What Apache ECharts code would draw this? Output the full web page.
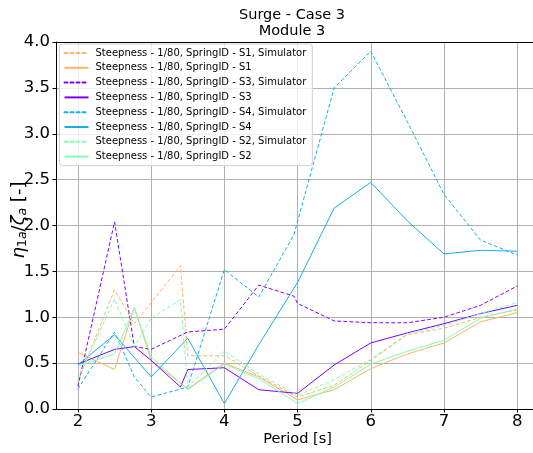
<!DOCTYPE html>
<html>
<head>
<meta charset="utf-8">
<script src="https://cdn.jsdelivr.net/npm/echarts@6/dist/echarts.min.js"></script>
<style>
  html, body { margin: 0; padding: 0; background: #ffffff; }
  #chart { width: 533px; height: 453px; }
</style>
</head>
<body>
<div id="chart"></div>
<script>
// Wave periods [s] shared by all series (null = no measurement at that period)
const periods = [2, 2.5, 2.77, 3, 3.4, 3.5, 4, 4.47, 4.95, 5, 5.5, 6, 6.5, 7, 7.5, 8];

// Surge response amplitude ratio per spring configuration
const s1Sim = [0.30, 1.30, 0.93, null, 1.56, 0.58, 0.58, 0.36, null, 0.13, 0.26, 0.53, 0.81, 0.88, 1.00, 1.08];
const s1    = [0.62, 0.43, 1.11, 0.53, null, 0.22, 0.50, 0.35, null, 0.10, 0.21, 0.44, 0.60, 0.72, 0.95, 1.05];
const s3Sim = [0.25, 2.04, 0.68, 0.65, null, 0.84, 0.87, 1.35, 1.23, 1.15, 0.96, 0.94, 0.94, 1.00, 1.13, 1.34];
const s3    = [0.49, 0.65, 0.68, 0.53, 0.24, 0.43, 0.45, 0.21, null, 0.17, 0.48, 0.72, 0.83, 0.93, 1.04, 1.13];
const s4Sim = [0.22, 0.84, 0.35, 0.13, null, 0.24, 1.52, 1.22, 1.90, null, 3.50, 3.90, 3.13, 2.34, 1.84, 1.68];
const s4    = [0.48, 0.81, null, 0.35, null, 0.77, 0.06, 0.70, null, 1.38, 2.19, 2.47, 2.05, 1.69, 1.73, 1.72];
const s2Sim = [0.33, 1.20, 0.68, 0.99, 1.19, 0.24, 0.63, 0.38, null, 0.15, 0.32, 0.54, 0.82, 0.91, 1.04, 1.16];
const s2    = [0.47, 0.60, 1.10, 0.57, null, 0.21, 0.49, 0.33, null, 0.06, 0.24, 0.49, 0.63, 0.75, 0.99, 1.09];

const seriesNames = [
  'Steepness - 1/80, SpringID - S1, Simulator',
  'Steepness - 1/80, SpringID - S1',
  'Steepness - 1/80, SpringID - S3, Simulator',
  'Steepness - 1/80, SpringID - S3',
  'Steepness - 1/80, SpringID - S4, Simulator',
  'Steepness - 1/80, SpringID - S4',
  'Steepness - 1/80, SpringID - S2, Simulator',
  'Steepness - 1/80, SpringID - S2'
];
const seriesValues = [s1Sim, s1, s3Sim, s3, s4Sim, s4, s2Sim, s2];
const seriesColors = ['#ffb462', '#ffb462', '#8000ff', '#8000ff', '#12b0ea', '#12b0ea', '#80ffb4', '#80ffb4'];
const seriesDashed = [true, false, true, false, true, false, true, false];

const xTicks = [2, 3, 4, 5, 6, 7, 8];
const FONT = 'DejaVu Sans';

const series = seriesNames.map((name, k) => ({
  name: name,
  type: 'line',
  symbol: 'none',
  xAxisIndex: 0,
  animation: false,
  data: periods.map((p, i) => [p, seriesValues[k][i]]).filter(d => d[1] !== null),
  lineStyle: seriesDashed[k]
    ? { color: seriesColors[k], width: 1, type: [3, 3], cap: 'round', join: 'round' }
    : { color: seriesColors[k], width: 1, type: 'solid' },
  itemStyle: { color: seriesColors[k] }
}));

const chart = echarts.init(document.getElementById('chart'), null, { renderer: 'canvas' });
chart.setOption({
  backgroundColor: '#ffffff',
  animation: false,
  title: {
    text: 'Surge - Case 3\nModule 3',
    left: 292,
    top: 7,
    textAlign: 'center',
    padding: 0,
    textStyle: { fontFamily: FONT, fontSize: 14.5, fontWeight: 'normal', color: '#000', lineHeight: 16 }
  },
  legend: {
    orient: 'vertical',
    left: 59.5,
    top: 44,
    padding: [4, 6, 4, 4],
    itemWidth: 24,
    itemHeight: 10,
    itemGap: 4.8,
    itemStyle: { opacity: 0 },
    backgroundColor: 'rgba(255,255,255,0.8)',
    borderColor: '#d0d0d0',
    borderWidth: 1,
    borderRadius: 3,
    textStyle: { fontFamily: FONT, fontSize: 10, color: '#000', padding: [0, 0, 0, 2] },
    data: seriesNames
  },
  // the plot frame runs past the right edge of the page
  grid: { left: 56, top: 42, width: 477, height: 367, show: false },
  xAxis: [
    {
      type: 'value',
      min: 1.7, max: 8.216,
      axisLine: { show: true, lineStyle: { color: '#000', width: 1 } },
      axisTick: { show: true, length: 3.5, customValues: xTicks, lineStyle: { color: '#000' } },
      axisLabel: { customValues: xTicks, margin: 4, fontFamily: FONT, fontSize: 16.5, color: '#000' },
      splitLine: { show: true, customValues: xTicks, lineStyle: { color: '#b0b0b0', width: 1 } }
    },
    {
      type: 'value',
      position: 'top',
      min: 1.7, max: 8.216,
      axisLine: { show: true, onZero: false, lineStyle: { color: '#000', width: 1 } },
      axisTick: { show: false },
      axisLabel: { show: false },
      splitLine: { show: false }
    }
  ],
  yAxis: {
    type: 'value',
    min: 0, max: 4, interval: 0.5,
    axisLine: { show: true, lineStyle: { color: '#000', width: 1 } },
    axisTick: { show: true, length: 3.5, lineStyle: { color: '#000' } },
    axisLabel: { margin: 6, fontFamily: FONT, fontSize: 16.5, color: '#000', formatter: v => v.toFixed(1) },
    splitLine: { show: true, lineStyle: { color: '#b0b0b0', width: 1 } }
  },
  graphic: [
    {
      type: 'text',
      x: 19, y: 220,
      rotation: Math.PI / 2,
      style: {
        text: '{m|η}{s|1}{si|a}{n|/}{m|ζ}{si|a}{n| [-]}',
        align: 'center',
        verticalAlign: 'middle',
        fill: '#000',
        rich: {
          m: { fontFamily: FONT, fontSize: 18, fontStyle: 'italic', fill: '#000' },
          n: { fontFamily: FONT, fontSize: 18, fill: '#000' },
          s: { fontFamily: FONT, fontSize: 12.5, fill: '#000', padding: [8, 0, 0, 0] },
          si: { fontFamily: FONT, fontSize: 12.5, fontStyle: 'italic', fill: '#000', padding: [8, 0, 0, 0] }
        }
      }
    },
    {
      type: 'text',
      x: 297.5, y: 439,
      style: {
        text: 'Period [s]',
        align: 'center',
        verticalAlign: 'middle',
        fontFamily: FONT,
        fontSize: 14.5,
        fill: '#000'
      }
    }
  ],
  series: series
});
</script>
</body>
</html>
